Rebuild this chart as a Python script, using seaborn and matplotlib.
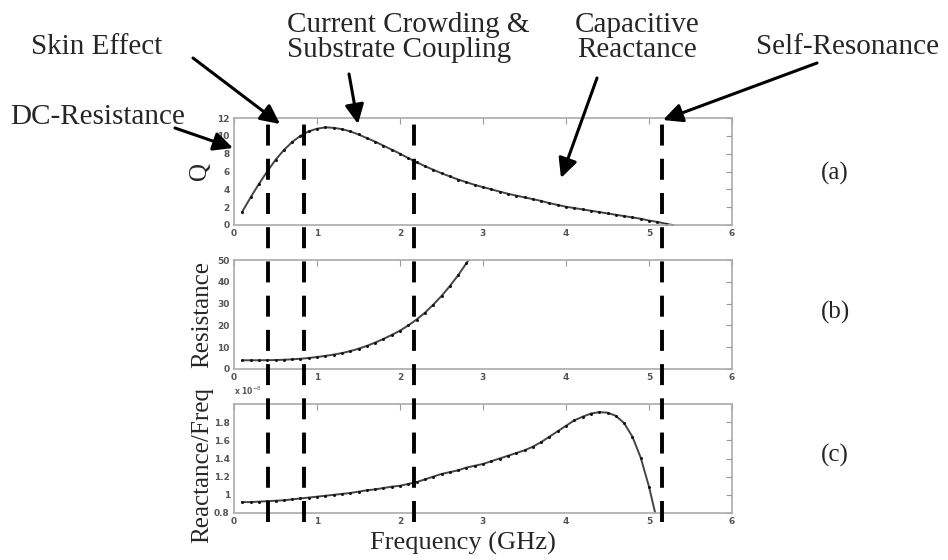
import seaborn as sns
import matplotlib.pyplot as plt
import numpy as np

freq_q = [0.1, 0.2, 0.3, 0.4, 0.5, 0.6, 0.7, 0.8, 0.9, 1.0,
          1.1, 1.2, 1.3, 1.4, 1.5, 1.6, 1.7, 1.8, 1.9, 2.0,
          2.1, 2.2, 2.3, 2.4, 2.5, 2.6, 2.7, 2.8, 2.9, 3.0,
          3.1, 3.2, 3.3, 3.4, 3.5, 3.6, 3.7, 3.8, 3.9, 4.0,
          4.1, 4.2, 4.3, 4.4, 4.5, 4.6, 4.7, 4.8, 4.9, 5.0,
          5.1, 5.2, 5.28]
q_vals = [1.5, 3.1, 4.6, 6.0, 7.3, 8.4, 9.3, 10.0, 10.5, 10.8,
          10.95, 10.9, 10.75, 10.5, 10.15, 9.75, 9.35, 8.9, 8.45, 8.0,
          7.5, 7.05, 6.6, 6.2, 5.8, 5.45, 5.1, 4.8, 4.5, 4.25,
          4.0, 3.75, 3.5, 3.3, 3.1, 2.9, 2.7, 2.45, 2.25, 2.05,
          1.9, 1.75, 1.6, 1.45, 1.3, 1.15, 1.0, 0.85, 0.7, 0.5,
          0.35, 0.15, 0.0]

freq_r = [0.1, 0.2, 0.3, 0.4, 0.5, 0.6, 0.7, 0.8, 0.9, 1.0,
          1.1, 1.2, 1.3, 1.4, 1.5, 1.6, 1.7, 1.8, 1.9, 2.0,
          2.1, 2.2, 2.3, 2.4, 2.5, 2.6, 2.7, 2.8, 2.9]
r_vals = [4.0, 4.0, 4.0, 4.05, 4.1, 4.25, 4.45, 4.7, 5.05, 5.5,
          6.0, 6.6, 7.3, 8.2, 9.3, 10.6, 12.1, 13.8, 15.6, 17.6,
          20.0, 22.7, 25.8, 29.5, 33.5, 38.0, 43.0, 48.5, 54.5]

freq_x = [0.1, 0.2, 0.3, 0.4, 0.5, 0.6, 0.7, 0.8, 0.9, 1.0,
          1.1, 1.2, 1.3, 1.4, 1.5, 1.6, 1.7, 1.8, 1.9, 2.0,
          2.1, 2.2, 2.3, 2.4, 2.5, 2.6, 2.7, 2.8, 2.9, 3.0,
          3.1, 3.2, 3.3, 3.4, 3.5, 3.6, 3.7, 3.8, 3.9, 4.0,
          4.1, 4.2, 4.3, 4.4, 4.5, 4.6, 4.7, 4.8, 4.9, 5.0,
          5.1]
# reactance / frequency, in units of 1e-8
x_vals = [0.92, 0.92, 0.925, 0.93, 0.935, 0.94, 0.95, 0.96, 0.97, 0.98,
          0.99, 1.0, 1.01, 1.02, 1.035, 1.05, 1.06, 1.075, 1.09, 1.10,
          1.12, 1.14, 1.17, 1.20, 1.23, 1.25, 1.27, 1.30, 1.32, 1.34,
          1.37, 1.40, 1.43, 1.46, 1.49, 1.53, 1.58, 1.64, 1.70, 1.76,
          1.82, 1.86, 1.895, 1.91, 1.905, 1.87, 1.79, 1.64, 1.41, 1.09,
          0.7]

boundaries = [0.41, 0.84, 2.17, 5.16]

sns.set_style("white")
plt.rcParams['font.family'] = ['DejaVu Sans']
serif = 'Liberation Serif'

W, H = 948, 560
fig = plt.figure(figsize=(W / 100, H / 100), dpi=100)


def rect(top, bottom, left=234, right=732):
    return [left / W, 1 - bottom / H, (right - left) / W, (bottom - top) / H]


def fpt(x, y):
    return (x / W, 1 - y / H)


ax_a = fig.add_axes(rect(118, 225))
ax_b = fig.add_axes(rect(260, 369))
ax_c = fig.add_axes(rect(404, 513))

line_kw = dict(color='#444444', lw=1.4, marker='.', markersize=2.8,
               markeredgecolor='#111111', markerfacecolor='#111111')
sns.lineplot(x=freq_q, y=q_vals, ax=ax_a, **line_kw)
sns.lineplot(x=freq_r, y=r_vals, ax=ax_b, **line_kw)
sns.lineplot(x=freq_x, y=x_vals, ax=ax_c, **line_kw)

ax_a.set_ylim(0, 12)
ax_a.set_yticks([0, 2, 4, 6, 8, 10, 12])
ax_b.set_ylim(0, 50)
ax_b.set_yticks([0, 10, 20, 30, 40, 50])
ax_c.set_ylim(0.8, 2.0)
ax_c.set_yticks([0.8, 1.0, 1.2, 1.4, 1.6, 1.8])
ax_c.set_yticklabels(['0.8', '1', '1.2', '1.4', '1.6', '1.8'])

for ax in (ax_a, ax_b, ax_c):
    ax.set_xlim(0, 6)
    ax.set_xticks([0, 1, 2, 3, 4, 5, 6])
    ax.set_xlabel('')
    ax.set_ylabel('')
    ax.tick_params(direction='in', length=4, width=0.8, color='#999999',
                   top=True, right=True, labelsize=6.5, labelcolor='#555555',
                   pad=3)
    for lab in ax.get_xticklabels() + ax.get_yticklabels():
        lab.set_fontweight('bold')
    for sp in ax.spines.values():
        sp.set_color('#aaaaaa')
        sp.set_linewidth(1.2)

ax_c.text(0.0, 1.06, r'x 10$^{-8}$', transform=ax_c.transAxes, fontsize=5.5,
          fontweight='bold', color='#555555', ha='left', va='bottom')

# y labels
ax_a.text(-0.068, 0.5, 'Q', transform=ax_a.transAxes, rotation=90,
          ha='center', va='center', fontsize=18, family=serif)
ax_b.text(-0.064, 0.5, 'Resistance', transform=ax_b.transAxes, rotation=90,
          ha='center', va='center', fontsize=18, family=serif)
ax_c.text(-0.064, 0.44, 'Reactance/Freq', transform=ax_c.transAxes,
          rotation=90, ha='center', va='center', fontsize=18, family=serif)
fig.text(*fpt(463, 550), 'Frequency (GHz)', ha='center', va='baseline',
         fontsize=19, family=serif)

# panel tags
for tag, y in (('(a)', 173), ('(b)', 312), ('(c)', 455)):
    fig.text(*fpt(835, y), tag, ha='center', va='center', fontsize=18,
             family=serif)

# dashed region boundaries spanning all panels
ov = fig.add_axes(rect(118, 522))
ov.set_xlim(0, 6)
ov.set_ylim(0, 1)
ov.axis('off')
ov.patch.set_alpha(0)
ov.vlines(boundaries, 0, 1, colors='black', lw=2.8,
          linestyles=[(0, (5.4, 3.4))])

# annotations
ann_fs = 21
fig.text(*fpt(98, 124), 'DC-Resistance', ha='center', va='baseline',
         fontsize=ann_fs, family=serif)
fig.text(*fpt(97, 54), 'Skin Effect', ha='center', va='baseline',
         fontsize=ann_fs, family=serif)
fig.text(*fpt(287, 32), 'Current Crowding &', ha='left', va='baseline',
         fontsize=ann_fs, family=serif)
fig.text(*fpt(287, 57), 'Substrate Coupling', ha='left', va='baseline',
         fontsize=ann_fs, family=serif)
fig.text(*fpt(637, 32), 'Capacitive', ha='center', va='baseline',
         fontsize=ann_fs, family=serif)
fig.text(*fpt(637, 57), 'Reactance', ha='center', va='baseline',
         fontsize=ann_fs, family=serif)
fig.text(*fpt(848, 54), 'Self-Resonance', ha='center', va='baseline',
         fontsize=ann_fs, family=serif)

arrows = [((175, 128), (233, 148)),
          ((193, 58), (280, 124)),
          ((349, 74), (358, 124)),
          ((597, 78), (561, 178)),
          ((817, 63), (663, 120))]
for tail, tip in arrows:
    ov.annotate('', xy=fpt(*tip), xytext=fpt(*tail),
                xycoords='figure fraction', textcoords='figure fraction',
                annotation_clip=False,
                arrowprops=dict(arrowstyle='-|>,head_length=0.45,head_width=0.22',
                                mutation_scale=26, lw=2.2, color='black',
                                shrinkA=0, shrinkB=0))

fig.savefig('out.png', dpi=100)
